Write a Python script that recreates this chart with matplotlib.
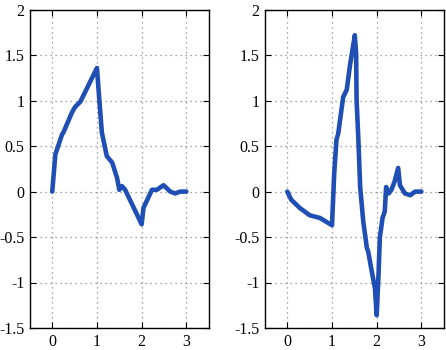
import matplotlib.pyplot as plt
import numpy as np

# curva da esquerda
x_esq = [0.0, 0.07, 0.22, 0.25, 0.44, 0.51, 0.63, 0.78, 1.0, 1.07, 1.11, 1.22, 1.34,
         1.45, 1.5, 1.56, 1.63, 2.0, 2.04, 2.23, 2.34, 2.49, 2.64, 2.75, 2.86, 3.0]
y_esq = [0.0, 0.41, 0.63, 0.65, 0.87, 0.93, 0.99, 1.14, 1.36, 0.90, 0.65, 0.39, 0.32,
         0.15, 0.02, 0.06, 0.02, -0.36, -0.18, 0.02, 0.02, 0.07, 0.0, -0.02, 0.0, 0.0]

# curva da direita
x_dir = [0.0, 0.09, 0.28, 0.5, 0.73, 1.0, 1.05, 1.10, 1.14, 1.25, 1.33, 1.40, 1.51,
         1.54, 1.55, 1.59, 1.63, 1.70, 1.78, 1.81, 1.89, 1.96, 2.0, 2.04, 2.07, 2.13,
         2.18, 2.21, 2.27, 2.33, 2.40, 2.48, 2.52, 2.63, 2.75, 2.86, 3.0]
y_dir = [0.0, -0.09, -0.18, -0.26, -0.29, -0.37, 0.20, 0.57, 0.64, 1.04, 1.12, 1.38, 1.72,
         1.52, 1.01, 0.57, 0.05, -0.33, -0.62, -0.66, -0.88, -1.06, -1.36, -0.92, -0.51, -0.29,
         -0.22, 0.05, -0.02, 0.02, 0.11, 0.26, 0.07, -0.02, -0.04, 0.0, 0.0]

xticks = [0, 1, 2, 3]
yticks = [-1.5, -1, -0.5, 0, 0.5, 1, 1.5, 2]
ylabels = ['-1.5', '-1', '-0.5', '0', '0.5', '1', '1.5', '2']

plt.rcParams['font.family'] = ['Liberation Serif', 'DejaVu Serif']
plt.rcParams['font.size'] = 11.5

fig = plt.figure(figsize=(4.46, 3.5), dpi=100)
ax1 = fig.add_axes([0.067, 0.063, 0.401, 0.909])
ax2 = fig.add_axes([0.594, 0.063, 0.401, 0.909])

for ax, xs, ys in [(ax1, x_esq, y_esq), (ax2, x_dir, y_dir)]:
    ax.plot(xs, ys, color='#1f4fb4', linewidth=3.3, solid_joinstyle='round', solid_capstyle='round')
    ax.set_xlim(-0.5, 3.5)
    ax.set_ylim(-1.5, 2)
    ax.set_xticks(xticks)
    ax.set_yticks(yticks, ylabels)
    ax.grid(True, linestyle=(0, (1, 3)), color='#888888', linewidth=0.9)
    ax.tick_params(direction='in', top=True, right=True, length=4, width=0.8, pad=4)
    for s in ax.spines.values():
        s.set_linewidth(1.0)

fig.savefig('out.png', dpi=100)
